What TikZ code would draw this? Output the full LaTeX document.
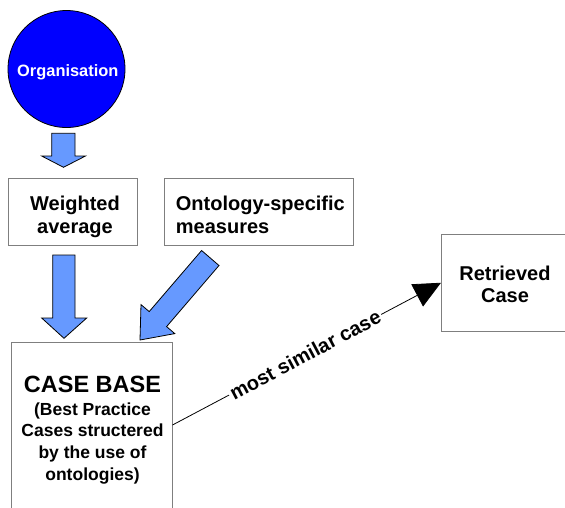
\documentclass[tikz,border=0pt]{standalone}
\usepackage{fontspec}
\setmainfont{Liberation Sans}
\usetikzlibrary{arrows.meta}
\definecolor{orgblue}{HTML}{0000FF}
\definecolor{arrowblue}{HTML}{6699FF}
\definecolor{boxgray}{HTML}{7F7F7F}
\begin{document}
\begin{tikzpicture}[x=1pt,y=-1pt,
  box/.style={draw=boxgray,line width=1pt,fill=white,inner sep=0pt,outer sep=0pt},
  blockarrow/.style={draw=black,line width=0.8pt,fill=arrowblue,line join=miter},
  lbl/.style={font=\bfseries\fontsize{20}{23.3}\selectfont,inner sep=0pt,align=center,anchor=base},
  connector/.style={draw=black,line width=0.8pt,-{Triangle[length=27pt,width=25pt]}}]
\useasboundingbox (0,0) rectangle (565,507);
\begin{scope}
\clip (0,0) rectangle (565,507);
% circle
\node[circle,draw=black,line width=0.8pt,fill=orgblue,minimum size=117pt,inner sep=0pt] (org) at (66.5,69) {};
\node[font=\bfseries\fontsize{16.4}{19}\selectfont,text=white,inner sep=0pt,anchor=base] (orgt) at (67.8,76) {Organisation};
% boxes
\node[box,minimum width=129pt,minimum height=67pt] (wa) at (72.5,211.5) {};
\node[box,minimum width=189pt,minimum height=67pt] (os) at (258.5,211.5) {};
\node[box,minimum width=129pt,minimum height=96.5pt] (rc) at (505.5,282.75) {};
\node[box,minimum width=161pt,minimum height=166pt] (cb) at (92,425) {};
% texts (multi-line nodes: base = last line)
\node[lbl] (wat) at (75,233.3) {Weighted\\average};
\node[lbl,align=left,anchor=base west] (ost) at (175.7,233.3) {Ontology-specific\\measures};
\node[lbl,font=\bfseries\fontsize{20}{22.3}\selectfont] (rct) at (505,302.3) {Retrieved\\Case};
\node[font=\bfseries\fontsize{23.5}{26}\selectfont,inner sep=0pt,anchor=base] (cbt) at (92.5,392.7) {CASE BASE};
\node[font=\bfseries\fontsize{17.5}{21.7}\selectfont,inner sep=0pt,align=center,anchor=base] (cbs) at (92.5,480.1) {(Best Practice\\Cases structered\\by the use of\\ontologies)};
% block arrows
\draw[blockarrow] (51.7,133.3) -- (75,133.3) -- (75,156) -- (85.5,156) -- (63.5,167.3) -- (41.7,156) -- (51.7,156) -- cycle;
\draw[blockarrow] (52.7,255) -- (75,255) -- (75,318) -- (86.7,318) -- (64,338.3) -- (41.7,318) -- (52.7,318) -- cycle;
\draw[blockarrow] (140,340) -- (174.8,333.6) -- (166.6,326.6) -- (219,265.5) -- (201.6,250.5) -- (149.2,311.6) -- (141,304.6) -- cycle;
% connector
\draw[connector] (cb.east) -- node[sloped,fill=white,inner sep=2pt,pos=0.494,font=\bfseries\fontsize{20}{23}\selectfont] (msc) {most similar case} (rc.west);
\end{scope}
\end{tikzpicture}
\end{document}
